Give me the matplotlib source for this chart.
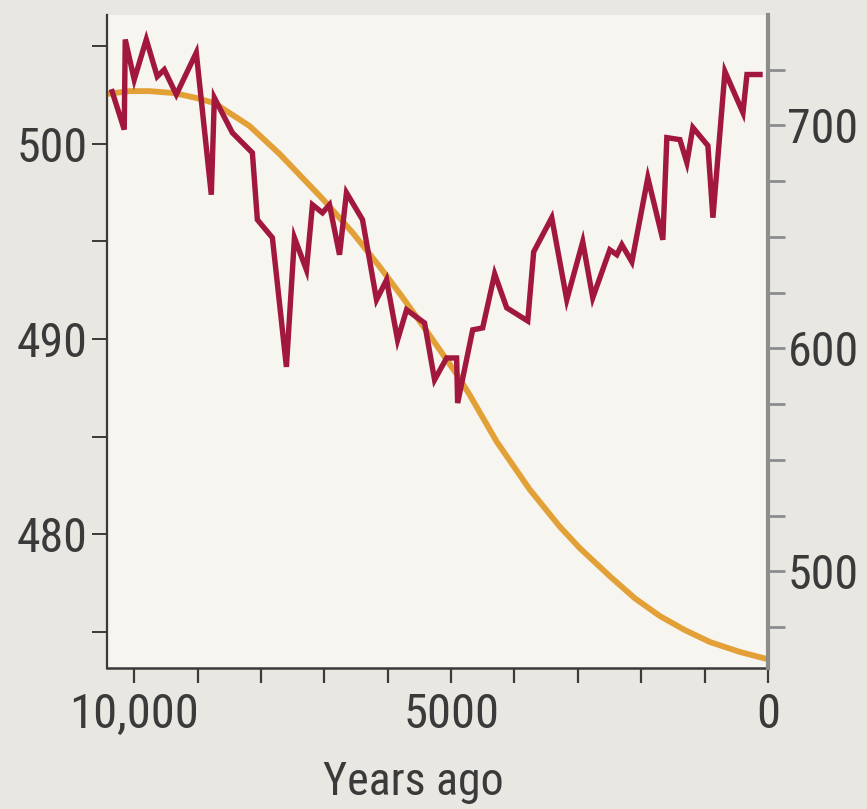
import os
import matplotlib
matplotlib.use("Agg")
import matplotlib.pyplot as plt
from matplotlib import font_manager as fm

# ---- data ----
# red series (right axis), years ago
red_years = [10348, 10158, 10142, 10000, 9810, 9637, 9526, 9336, 9021, 8784,
             8736, 8452, 8136, 8057, 7820, 7599, 7472, 7283, 7188, 7030,
             6919, 6761, 6651, 6398, 6177, 6019, 5845, 5703, 5419, 5261,
             5071, 4913, 4897, 4660, 4502, 4313, 4123, 3791, 3697, 3412,
             3175, 2923, 2765, 2496, 2385, 2306, 2148, 1896, 1659, 1596,
             1390, 1280, 1185, 948, 869, 679, 395, 332, 126]
red_values = [715.1, 698.1, 738.5, 720.5, 738.5, 721.9, 725.0, 713.8, 732.6, 668.9,
              712.4, 696.7, 687.7, 657.7, 649.6, 591.7, 649.6, 635.2, 664.4, 660.8,
              664.4, 642.0, 669.8, 657.7, 621.8, 630.7, 603.8, 617.3, 611.4, 585.9,
              595.7, 595.7, 575.5, 608.3, 609.2, 633.4, 618.2, 612.3, 643.3, 658.6,
              621.8, 647.8, 622.7, 644.2, 642.0, 646.5, 638.8, 676.5, 648.7, 694.5,
              693.6, 683.3, 699.0, 690.9, 658.6, 724.1, 705.7, 722.8, 722.8]

# orange series (left axis)
orange_years = [10442, 10079, 9763, 9368, 9021, 8736, 8183, 7709, 7030, 6556,
                6130, 5766, 5340, 4913, 4708, 4281, 3760, 3286, 2970, 2496,
                2101, 1706, 1311, 916, 442, 16]
orange_values = [502.55, 502.70, 502.70, 502.60, 502.35, 502.09, 500.92, 499.49, 497.19, 495.46,
                 493.72, 492.14, 490.20, 488.21, 487.15, 484.75, 482.30, 480.40, 479.30, 477.86,
                 476.73, 475.82, 475.10, 474.49, 473.98, 473.62]

left_major = [480, 490, 500]
left_minor = [475, 485, 495, 505]
right_major = [500, 600, 700]
right_minor = [475, 525, 550, 575, 625, 650, 675, 725]
x_major = [10000, 5000, 0]
x_major_labels = ["10,000", "5000", "0"]
x_minor = list(range(0, 10001, 1000))
xlabel = "Years ago"


# ---- font: prefer a narrow / condensed sans ----
def pick_font_file():
    prefs = ['LiberationSansNarrow-Regular', 'RobotoCondensed-Regular',
             'OpenSans_Condensed-Regular', 'OpenSansCondensed', 'NotoSans-Condensed.',
             'NotoSans-CondensedRegular', 'DejaVuSansCondensed.ttf']
    files = [f.fname for f in fm.fontManager.ttflist]
    for p in prefs:
        for fn in files:
            if p in os.path.basename(fn):
                return fn
    for fn in files:
        b = os.path.basename(fn)
        if ('Condensed' in b or 'Narrow' in b) and not any(
                k in b for k in ('Bold', 'Italic', 'Oblique', 'Light', 'Thin', 'Black', 'Medium', 'Semi', 'Extra')):
            return fn
    return None


ffile = pick_font_file()


def fprops(size):
    if ffile:
        return fm.FontProperties(fname=ffile, size=size)
    return fm.FontProperties(family='DejaVu Sans', stretch='condensed', size=size)


fig_bg = '#e9e7e1'
ax_bg = '#f7f5f0'
red = '#a2173e'
orange = '#e2a037'
dark = '#3a3a3a'
grey = '#8c8c8c'

fig = plt.figure(figsize=(8.67, 8.09), dpi=100, facecolor=fig_bg)
ax = fig.add_axes([0.1234, 0.1743, 0.8858 - 0.1234, 0.9815 - 0.1743])
ax.set_facecolor(ax_bg)

ax.plot(orange_years, orange_values, color=orange, lw=4.2, solid_capstyle='butt')
ax.set_xlim(10430, 0)
ax.set_ylim(473.16, 506.6)

ax2 = ax.twinx()
ax2.plot(red_years, red_values, color=red, lw=3.9, solid_joinstyle='miter')
ax2.set_ylim(456.7, 749.5)

for a in (ax, ax2):
    a.spines['top'].set_visible(False)

ax.spines['left'].set_color(dark)
ax.spines['left'].set_linewidth(1.6)
ax.spines['bottom'].set_color(dark)
ax.spines['bottom'].set_linewidth(1.8)
ax.spines['right'].set_visible(False)
ax2.spines['left'].set_visible(False)
ax2.spines['bottom'].set_visible(False)
ax2.spines['right'].set_color(grey)
ax2.spines['right'].set_linewidth(3.0)

TS = 34.5
ax.set_xticks(x_major, labels=x_major_labels, fontproperties=fprops(35), color=dark)
ax.set_xticks(x_minor, minor=True)
ax.set_yticks(left_major, labels=[str(v) for v in left_major], fontproperties=fprops(TS), color=dark)
ax.set_yticks(left_minor, minor=True)
ax2.set_yticks(right_major, labels=[str(v) for v in right_major], fontproperties=fprops(TS), color=dark)
ax2.set_yticks(right_minor, minor=True)

ax.tick_params(axis='x', which='both', direction='out', length=11, width=1.6,
               color=dark, pad=6)
ax.tick_params(axis='y', which='both', direction='out', length=11, width=1.4,
               color=dark, pad=3)
ax2.tick_params(axis='y', which='both', direction='out', length=12, width=2.0,
                color=grey, pad=2)

fig.text(413 / 867, 1 - 782 / 809, xlabel, ha='center', va='center',
         fontproperties=fprops(33), color=dark)

fig.savefig('out.png', dpi=100, facecolor=fig_bg)
